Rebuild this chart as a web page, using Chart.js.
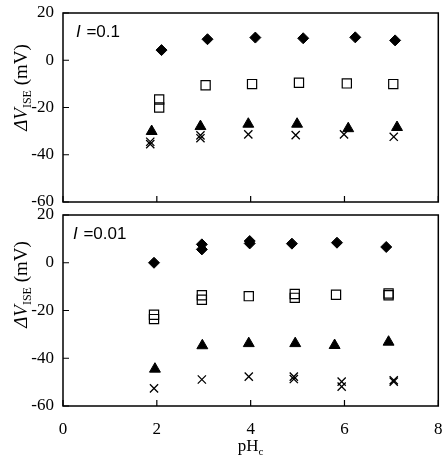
<!DOCTYPE html>
<html lang="en">
<head>
    <meta charset="UTF-8">
    <title>Delta V ISE vs pHc</title>
    <script src="https://cdn.jsdelivr.net/npm/chart.js"></script>
    <style>
        body { margin: 0; background: #fff; }
        .panel { position: absolute; left: 0; width: 446px; }
        #topBox { top: 0; height: 212px; }
        #bottomBox { top: 205px; height: 255px; }
    </style>
</head>
<body>
    <div class="panel" id="topBox"><canvas id="topChart"></canvas></div>
    <div class="panel" id="bottomBox"><canvas id="bottomChart"></canvas></div>
    <script>
        // y ticks shared by both panels
        const yTicks = [-60, -40, -20, 0, 20];
        const xTicks = [0, 2, 4, 6, 8];

        // I = 0.1
        const topDiamondX = [2.10, 3.08, 4.10, 5.12, 6.23, 7.08];
        const topDiamondY = [4.3, 8.9, 9.6, 9.3, 9.7, 8.4];
        const topSquareX = [2.05, 2.05, 3.04, 4.03, 5.03, 6.05, 7.04];
        const topSquareY = [-16.6, -20.0, -10.6, -10.1, -9.5, -9.8, -10.1];
        const topTriangleX = [1.89, 2.93, 3.95, 4.99, 6.08, 7.12];
        const topTriangleY = [-30.1, -28.0, -27.0, -27.0, -28.9, -28.4];
        const topCrossX = [1.86, 1.86, 2.93, 2.93, 3.95, 4.96, 5.99, 7.05];
        const topCrossY = [-35.5, -34.5, -33.0, -31.8, -31.4, -31.7, -31.4, -32.4];

        // I = 0.01
        const botDiamondX = [1.94, 2.96, 2.96, 3.98, 3.98, 4.88, 5.84, 6.89];
        const botDiamondY = [0.0, 7.7, 5.6, 9.1, 8.1, 8.0, 8.4, 6.6];
        const botSquareX = [1.94, 1.94, 2.96, 2.96, 3.96, 4.94, 4.94, 5.82, 6.94, 6.94];
        const botSquareY = [-21.8, -23.6, -13.6, -15.5, -14.0, -13.1, -14.7, -13.4, -12.9, -13.6];
        const botTriangleX = [1.96, 2.97, 3.96, 4.95, 5.79, 6.94];
        const botTriangleY = [-44.5, -34.7, -33.8, -33.8, -34.6, -33.2];
        const botCrossX = [1.94, 2.96, 3.96, 4.92, 4.92, 5.94, 5.94, 7.05, 7.05];
        const botCrossY = [-52.6, -48.9, -47.7, -47.7, -48.7, -49.8, -51.9, -49.2, -49.8];

        const serif = '"Liberation Serif", "Times New Roman", serif';
        const sans = '"Liberation Sans", Arial, sans-serif';

        function pts(xs, ys) {
            return xs.map((x, i) => ({ x: x, y: ys[i] }));
        }

        function makeSets(dx, dy, sx, sy, tx, ty, cx, cy) {
            return [
                { data: pts(dx, dy), pointStyle: 'rectRot', pointRadius: 5.5, backgroundColor: '#000', borderColor: '#000', borderWidth: 1 },
                { data: pts(sx, sy), pointStyle: 'rect', pointRadius: 6.5, backgroundColor: 'rgba(255,255,255,0)', borderColor: '#000', borderWidth: 1.2 },
                { data: pts(tx, ty), pointStyle: 'triangle', pointRadius: 6.3, backgroundColor: '#000', borderColor: '#000', borderWidth: 1 },
                { data: pts(cx, cy), pointStyle: 'crossRot', pointRadius: 5.8, backgroundColor: '#000', borderColor: '#000', borderWidth: 1.3 }
            ];
        }

        // frame, inward ticks, panel label, y title (and x title on bottom)
        const framePlugin = {
            id: 'frame',
            afterDraw(chart, args, opts) {
                const { ctx, chartArea: a, scales: { x, y } } = chart;
                ctx.save();
                ctx.strokeStyle = '#000';
                ctx.lineWidth = 1.5;
                ctx.strokeRect(a.left, a.top, a.right - a.left, a.bottom - a.top);
                ctx.lineWidth = 1.2;
                ctx.beginPath();
                y.ticks.forEach(t => {
                    const py = y.getPixelForValue(t.value);
                    ctx.moveTo(a.left, py); ctx.lineTo(a.left + 6, py);
                });
                x.ticks.forEach(t => {
                    const px = x.getPixelForValue(t.value);
                    ctx.moveTo(px, a.bottom); ctx.lineTo(px, a.bottom - 6);
                });
                ctx.stroke();

                // panel label "I =0.1"
                ctx.fillStyle = '#000';
                ctx.textBaseline = 'alphabetic';
                ctx.textAlign = 'left';
                let lx = a.left + opts.labelDx;
                const ly = a.top + opts.labelDy;
                ctx.font = 'italic 17px ' + sans;
                ctx.fillText('I', lx, ly);
                lx += ctx.measureText('I ').width + 1;
                ctx.font = '17px ' + sans;
                ctx.fillText('=' + opts.label, lx, ly);

                // y axis title, rotated
                const cyMid = (a.top + a.bottom) / 2 - opts.titleShift;
                ctx.translate(27, cyMid);
                ctx.rotate(-Math.PI / 2);
                const p1 = 'ΔV', p2 = 'ISE', p3 = ' (mV)';
                ctx.font = 'italic 19px ' + serif;
                const w1 = ctx.measureText(p1).width;
                ctx.font = '12px ' + serif;
                const w2 = ctx.measureText(p2).width;
                ctx.font = '19px ' + serif;
                const w3 = ctx.measureText(p3).width;
                let tx = -(w1 + w2 + w3) / 2;
                ctx.font = 'italic 19px ' + serif;
                ctx.fillText(p1, tx, 0); tx += w1;
                ctx.font = '12px ' + serif;
                ctx.fillText(p2, tx, 4); tx += w2;
                ctx.font = '19px ' + serif;
                ctx.fillText(p3, tx, 0);
                ctx.restore();

                if (opts.xTitle) {
                    ctx.save();
                    ctx.fillStyle = '#000';
                    ctx.font = '17px ' + serif;
                    const wa = ctx.measureText('pH').width;
                    ctx.font = '11px ' + serif;
                    const wb = ctx.measureText('c').width;
                    let xx = (a.left + a.right) / 2 - (wa + wb) / 2;
                    const yy = a.bottom + 45;
                    ctx.font = '17px ' + serif;
                    ctx.fillText('pH', xx, yy);
                    ctx.font = '11px ' + serif;
                    ctx.fillText('c', xx + wa, yy + 4);
                    ctx.restore();
                }
            }
        };

        function noPad(s) {
            s.paddingLeft = 0; s.paddingRight = 0;
            s.paddingTop = 0; s.paddingBottom = 0;
        }

        function createPanel(canvasId, datasets, opts) {
            return new Chart(document.getElementById(canvasId), {
                type: 'scatter',
                data: { datasets: datasets },
                options: {
                    responsive: true,
                    maintainAspectRatio: false,
                    animation: false,
                    layout: { padding: { top: opts.padTop, right: 7, bottom: opts.padBottom, left: 0 } },
                    scales: {
                        x: {
                            type: 'linear', min: 0, max: 8,
                            afterBuildTicks: s => { s.ticks = xTicks.map(v => ({ value: v })); },
                            grid: { display: false, drawTicks: false },
                            border: { display: false },
                            ticks: {
                                display: opts.showX, padding: 13, color: '#000',
                                font: { family: serif, size: 17 }
                            },
                            afterFit: s => { s.height = opts.xHeight; noPad(s); }
                        },
                        y: {
                            min: -60, max: 20,
                            afterBuildTicks: s => { s.ticks = yTicks.map(v => ({ value: v })); },
                            grid: { display: false, drawTicks: false },
                            border: { display: false },
                            ticks: { padding: 9, color: '#000', font: { family: serif, size: 17 } },
                            afterFit: s => { s.width = 63; noPad(s); }
                        }
                    },
                    plugins: {
                        legend: { display: false },
                        tooltip: { enabled: false },
                        frame: opts.frame
                    }
                },
                plugins: [framePlugin]
            });
        }

        createPanel('topChart',
            makeSets(topDiamondX, topDiamondY, topSquareX, topSquareY, topTriangleX, topTriangleY, topCrossX, topCrossY),
            { padTop: 13, padBottom: 10, showX: false, xHeight: 0,
              frame: { label: '0.1', labelDx: 13, labelDy: 24, titleShift: 20, xTitle: false } });

        createPanel('bottomChart',
            makeSets(botDiamondX, botDiamondY, botSquareX, botSquareY, botTriangleX, botTriangleY, botCrossX, botCrossY),
            { padTop: 10, padBottom: 0, showX: true, xHeight: 54,
              frame: { label: '0.01', labelDx: 10, labelDy: 24, titleShift: 26, xTitle: true } });
    </script>
</body>
</html>
